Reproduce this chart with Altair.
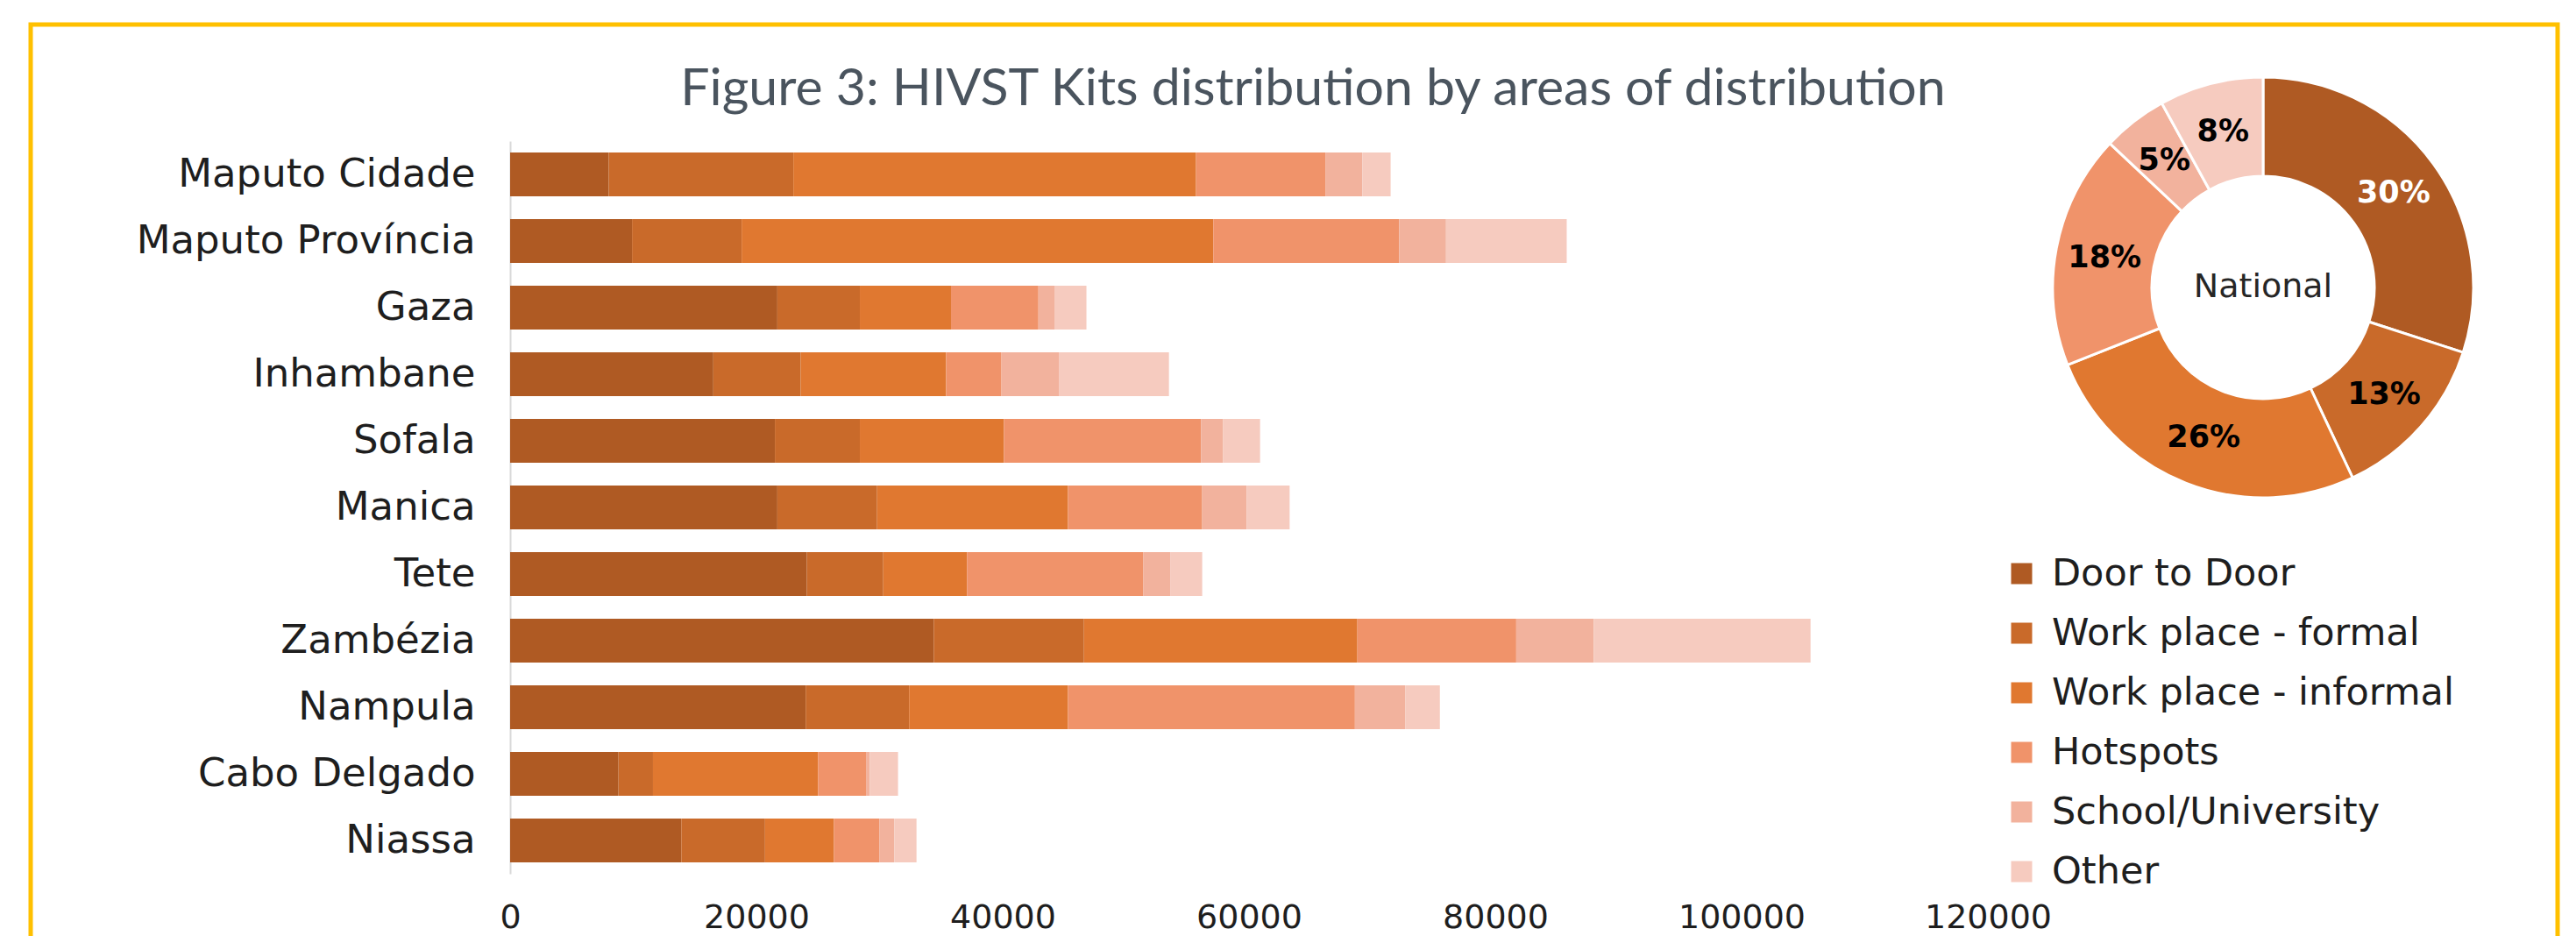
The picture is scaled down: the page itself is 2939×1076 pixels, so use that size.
import altair as alt
import pandas as pd

# ---------------- data ----------------
provinces = ["Maputo Cidade", "Maputo Província", "Gaza", "Inhambane", "Sofala",
             "Manica", "Tete", "Zambézia", "Nampula", "Cabo Delgado", "Niassa"]
areas = ["Door to Door", "Work place - formal", "Work place - informal",
         "Hotspots", "School/University", "Other"]

door_to_door = [8000, 9900, 21700, 16500, 21500, 21700, 24100, 34400, 24000, 8800, 13900]
work_formal = [15000, 8900, 6700, 7100, 6900, 8100, 6200, 12200, 8400, 2800, 6800]
work_informal = [32700, 38300, 7400, 11800, 11700, 15500, 6800, 22200, 12900, 13400, 5600]
hotspots = [10500, 15100, 7100, 4500, 16000, 10900, 14300, 12900, 23300, 3900, 3700]
school_univ = [3000, 3800, 1300, 4700, 1800, 3600, 2200, 6300, 4100, 300, 1200]
other = [2300, 9800, 2600, 8900, 3000, 3500, 2600, 17600, 2800, 2300, 1800]

national_pct = [30, 13, 26, 18, 5, 8]
x_ticks = [0, 20000, 40000, 60000, 80000, 100000, 120000]
title_text = "Figure 3: HIVST Kits distribution by areas of distribution"
center_text = "National"

colors = ["#AF5A23", "#C96A2A", "#E07830", "#F0936A", "#F2B29D", "#F6CBBF"]

# ---------------- tables ----------------
series = [door_to_door, work_formal, work_informal, hotspots, school_univ, other]
rows = []
for ai, (area, vals) in enumerate(zip(areas, series)):
    for p, v in zip(provinces, vals):
        rows.append({"province": p, "area": area, "kits": v, "idx": ai})
bars_df = pd.DataFrame(rows)

pie_df = pd.DataFrame({"area": areas, "pct": national_pct, "idx": list(range(len(areas)))})
pie_df["label"] = pie_df["pct"].astype(str) + "%"

FONT = "DejaVu Sans"
TXT = "#1E1E1E"

color_enc = alt.Color(
    "area:N",
    scale=alt.Scale(domain=areas, range=colors),
    legend=alt.Legend(
        title=None, orient="none", legendX=1703, legendY=472,
        symbolType="square", symbolSize=576, symbolStrokeWidth=0,
        labelFont=FONT, labelFontSize=43, labelColor=TXT,
        labelOffset=13, rowPadding=24, padding=0, labelLimit=700,
    ),
)

bars = alt.Chart(bars_df).mark_bar().encode(
    x=alt.X("kits:Q", stack="zero",
            scale=alt.Scale(domain=[0, 120000], nice=False),
            axis=alt.Axis(values=x_ticks, format="d", title=None, grid=False,
                          domain=False, ticks=False, labelFlush=False,
                          labelFont=FONT, labelFontSize=38, labelColor=TXT,
                          labelPadding=31, labelOverlap=False)),
    y=alt.Y("province:N", sort=provinces,
            scale=alt.Scale(paddingInner=0.342, paddingOuter=0.171),
            axis=alt.Axis(title=None, ticks=False, domain=True, domainColor="#D9D9D9",
                          domainWidth=2, grid=False, labelFont=FONT, labelFontSize=45,
                          labelColor=TXT, labelPadding=40, labelLimit=800)),
    color=color_enc,
    order=alt.Order("idx:Q"),
)

arcs = alt.Chart(pie_df).mark_arc(radius=240, radius2=127, stroke="white", strokeWidth=3).encode(
    theta=alt.Theta("pct:Q", stack=True),
    color=alt.Color("area:N", scale=alt.Scale(domain=areas, range=colors)),
    order=alt.Order("idx:Q"),
    x=alt.value(2000), y=alt.value(167),
)

arc_labels = alt.Chart(pie_df).mark_text(
    radius=184, font=FONT, fontSize=35, fontWeight="bold", align="center", baseline="middle"
).encode(
    theta=alt.Theta("pct:Q", stack=True),
    order=alt.Order("idx:Q"),
    text="label:N",
    color=alt.condition(alt.datum.idx == 0, alt.value("white"), alt.value("black")),
    x=alt.value(2000), y=alt.value(167),
)

national = alt.Chart(pd.DataFrame({"t": [center_text]})).mark_text(
    font=FONT, fontSize=38, color="#262626", align="center", baseline="middle"
).encode(text="t:N", x=alt.value(2000), y=alt.value(167))

title = alt.Chart(pd.DataFrame({"t": [title_text]})).mark_text(
    font="Lato", fontSize=59, color="#4A545E", align="center", baseline="alphabetic"
).encode(text="t:N", x=alt.value(916), y=alt.value(-41))

border = alt.Chart(pd.DataFrame({"t": [0]})).mark_rect(
    fill="white", fillOpacity=0, stroke="#FFC000", strokeWidth=5
).encode(x=alt.value(-547), x2=alt.value(2336), y=alt.value(-133), y2=alt.value(1000))

chart = alt.layer(border, bars, arcs, arc_labels, national, title).properties(
    width=1686, height=836,
    autosize=alt.AutoSizeParams(type="none"),
    padding={"left": 574, "top": 153, "right": 655, "bottom": 71},
).configure_view(stroke=None)

chart.save("out.html", embed_options={"renderer": "svg", "actions": False})
